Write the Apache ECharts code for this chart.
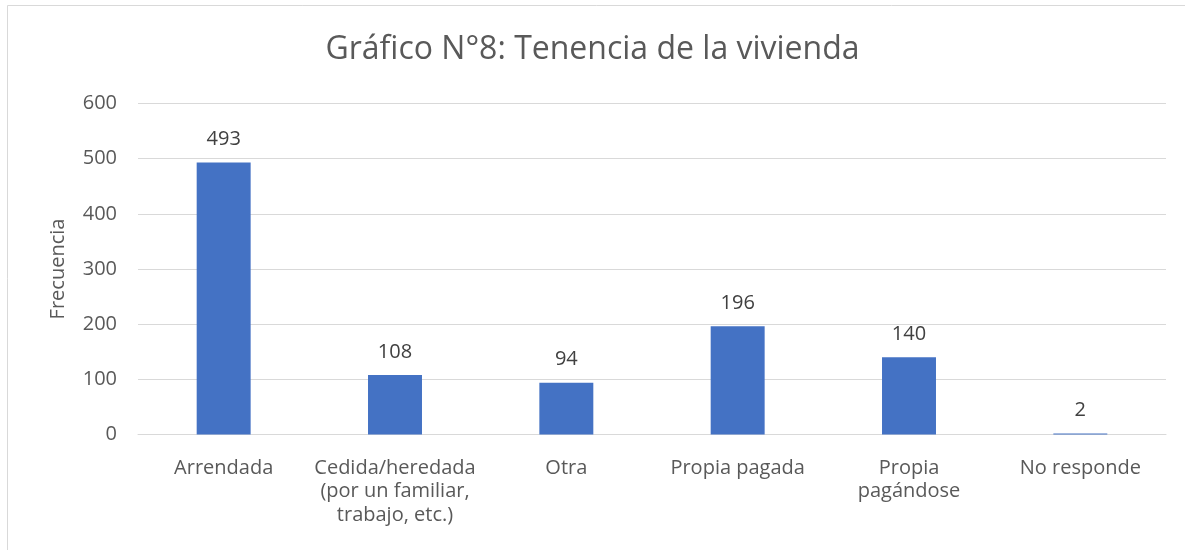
<!DOCTYPE html>
<html>
<head>
<meta charset="utf-8">
<script src="https://cdn.jsdelivr.net/npm/echarts@6/dist/echarts.min.js"></script>
<style>
html,body{margin:0;padding:0;background:#fff;}
#c{width:1185px;height:550px;}
</style>
</head>
<body>
<div id="c"></div>
<script>
const categories = ["Arrendada", "Cedida/heredada\n(por un familiar,\ntrabajo, etc.)", "Otra", "Propia pagada", "Propia\npagándose", "No responde"];
const frecuencia = [493, 108, 94, 196, 140, 2];
const yTicks = [0, 100, 200, 300, 400, 500, 600];

const chart = echarts.init(document.getElementById('c'));
const FONT = 'Open Sans';
chart.setOption({
  animation: false,
  backgroundColor: '#fff',
  title: {
    text: 'Gráfico N°8: Tenencia de la vivienda',
    left: 'center',
    top: 29,
    textStyle: {fontFamily: FONT, fontSize: 32, fontWeight: 'normal', color: '#595959'}
  },
  graphic: [{
    type: 'rect',
    shape: {x: 7.5, y: 5.5, width: 1200, height: 600},
    style: {fill: 'none', stroke: '#D9D9D9', lineWidth: 1},
    silent: true
  }],
  grid: {left: 138, right: 19, top: 103.5, bottom: 115.5, containLabel: false},
  xAxis: {
    type: 'category',
    data: categories,
    axisLine: {show: true, lineStyle: {color: '#D9D9D9', width: 1}},
    axisTick: {show: false},
    axisLabel: {fontFamily: FONT, fontSize: 20, color: '#595959', margin: 22, lineHeight: 23.5, interval: 0}
  },
  yAxis: {
    type: 'value',
    min: 0, max: 600, interval: 100,
    name: 'Frecuencia',
    nameLocation: 'middle',
    nameGap: 70,
    nameTextStyle: {fontFamily: FONT, fontSize: 20, color: '#595959'},
    axisLine: {show: false},
    axisTick: {show: false},
    splitLine: {lineStyle: {color: '#D9D9D9', width: 1}},
    axisLabel: {fontFamily: FONT, fontSize: 20, color: '#595959', margin: 21,
      formatter: v => yTicks.includes(v) ? String(v) : ''}
  },
  series: [{
    type: 'bar',
    data: frecuencia,
    barWidth: '31.5%',
    itemStyle: {color: '#4472C4'},
    label: {show: true, position: 'top', distance: 13, fontFamily: FONT, fontSize: 20, color: '#404040'}
  }]
});
</script>
</body>
</html>
